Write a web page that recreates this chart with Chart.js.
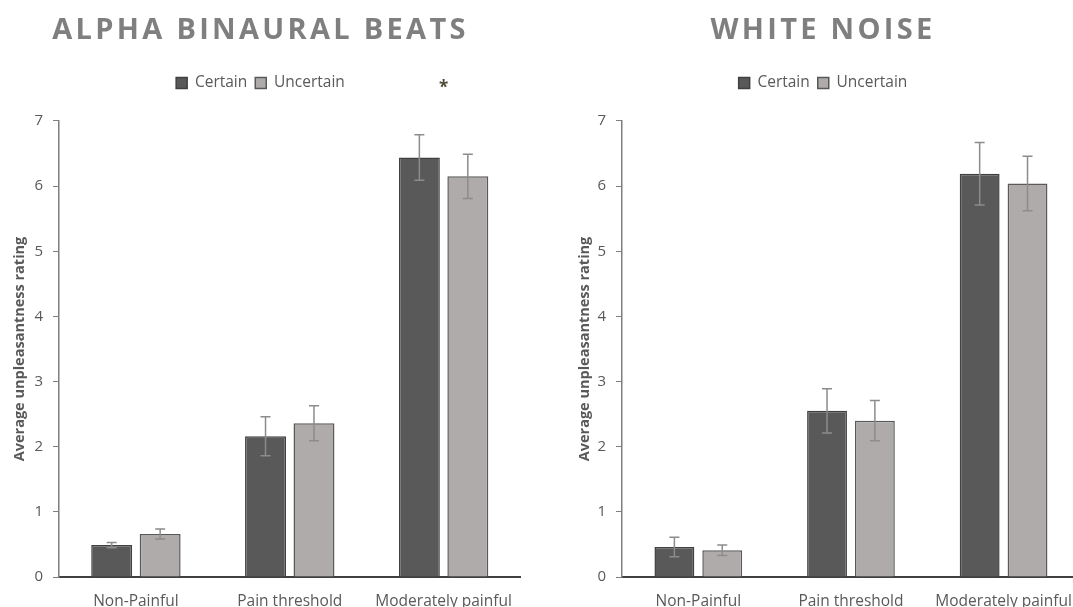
<!DOCTYPE html>
<html>
<head>
<meta charset="utf-8">
<script src="https://cdn.jsdelivr.net/npm/chart.js@4/dist/chart.umd.min.js"></script>
<style>
  html, body { margin: 0; padding: 0; background: #ffffff; overflow: hidden; width: 1073px; height: 607px; }
  .panel { position: absolute; top: 0; }
  #leftWrap { left: 0; }
  #rightWrap { left: 565px; }
</style>
</head>
<body>
<div id="leftWrap" class="panel"><canvas id="leftChart" width="528" height="617"></canvas></div>
<div id="rightWrap" class="panel"><canvas id="rightChart" width="523" height="617"></canvas></div>
<script>
// ---- Data ----
const categories = ["Non-Painful", "Pain threshold", "Moderately painful"];
const seriesNames = ["Certain", "Uncertain"];
const yTicks = [0, 1, 2, 3, 4, 5, 6, 7];
const yAxisTitle = "Average unpleasantness rating";

const alphaTitle = "ALPHA BINAURAL BEATS";
const alphaCertain = [0.49, 2.16, 6.44];
const alphaUncertain = [0.66, 2.36, 6.15];
const alphaCertainErr = [0.04, 0.30, 0.35];
const alphaUncertainErr = [0.077, 0.27, 0.34];
const alphaMarks = ["", "", "*"];

const noiseTitle = "WHITE NOISE";
const noiseCertain = [0.46, 2.55, 6.19];
const noiseUncertain = [0.41, 2.40, 6.04];
const noiseCertainErr = [0.15, 0.34, 0.48];
const noiseUncertainErr = [0.08, 0.31, 0.42];
const noiseMarks = ["", "", ""];

// ---- Styles ----
const FONT = "'Open Sans', 'Liberation Sans', sans-serif";
const certainFill = "#595959", certainBorder = "#404040";
const uncertainFill = "#afabab", uncertainBorder = "#595959";
const errColor = "#8c8c8c";
const textGray = "#595959";

const errorBarPlugin = {
  id: "errorBars",
  afterDatasetsDraw(chart) {
    const ctx = chart.ctx;
    const y = chart.scales.y;
    ctx.save();
    ctx.strokeStyle = errColor;
    ctx.lineWidth = 1.5;
    chart.data.datasets.forEach((ds, di) => {
      const meta = chart.getDatasetMeta(di);
      meta.data.forEach((bar, i) => {
        const v = ds.data[i], e = ds.errors[i];
        const yTop = y.getPixelForValue(v + e);
        const yBot = y.getPixelForValue(v - e);
        const x = bar.x, cap = 5;
        ctx.beginPath();
        ctx.moveTo(x, yTop); ctx.lineTo(x, yBot);
        ctx.moveTo(x - cap, yTop); ctx.lineTo(x + cap, yTop);
        ctx.moveTo(x - cap, yBot); ctx.lineTo(x + cap, yBot);
        ctx.stroke();
      });
    });
    ctx.restore();
  }
};

const markPlugin = {
  id: "sigMarks",
  afterDraw(chart, args, opts) {
    const marks = opts.marks || [];
    const ctx = chart.ctx;
    const xs = chart.scales.x;
    ctx.save();
    ctx.fillStyle = "#4d4a36";
    ctx.font = "bold 17px " + FONT;
    ctx.textAlign = "center";
    ctx.textBaseline = "middle";
    marks.forEach((m, i) => {
      if (m) ctx.fillText(m, xs.getPixelForValue(i), 88);
    });
    ctx.restore();
  }
};

// adds letter spacing to the chart title only
const titleSpacingPlugin = {
  id: "titleSpacing",
  beforeDraw(chart, args, opts) {
    const tb = chart.titleBlock;
    if (tb && !tb._spaced) {
      const orig = tb.draw.bind(tb);
      tb.draw = function () {
        const c = chart.ctx;
        const prev = c.letterSpacing;
        c.letterSpacing = opts.spacing || "0px";
        orig();
        c.letterSpacing = prev || "0px";
      };
      tb._spaced = true;
    }
  }
};

function makeChart(id, title, certain, uncertain, cErr, uErr, marks, yWidth, catPct, barPct) {
  return new Chart(document.getElementById(id), {
    type: "bar",
    data: {
      labels: categories,
      datasets: [
        { label: seriesNames[0], data: certain, errors: cErr,
          backgroundColor: certainFill, borderColor: certainBorder, borderWidth: 1.5,
          categoryPercentage: catPct, barPercentage: barPct },
        { label: seriesNames[1], data: uncertain, errors: uErr,
          backgroundColor: uncertainFill, borderColor: uncertainBorder, borderWidth: 1.5,
          categoryPercentage: catPct, barPercentage: barPct }
      ]
    },
    options: {
      responsive: false,
      animation: false,
      devicePixelRatio: 1,
      layout: { padding: { left: 0, right: 7, top: 0, bottom: 0 } },
      plugins: {
        title: {
          display: true, text: title, color: "#7f7f7f",
          font: { family: FONT, size: 29, weight: "bold", lineHeight: 1.2 },
          padding: { top: 13, bottom: 19.5 }
        },
        titleSpacing: { spacing: "3.3px" },
        subtitle: {
          display: true, text: "", weight: 500,
          font: { size: 10, lineHeight: 1 },
          padding: { top: 0, bottom: 10.15 }
        },
        legend: {
          display: true, position: "top",
          labels: {
            color: textGray, boxWidth: 11, boxHeight: 11, padding: 8,
            font: { family: FONT, size: 15.5 }
          }
        },
        tooltip: { enabled: false },
        sigMarks: { marks: marks }
      },
      scales: {
        x: {
          grid: { display: false, drawTicks: false },
          border: { display: true, color: "#404040", width: 2 },
          ticks: { color: textGray, padding: 15, font: { family: FONT, size: 15.5 }, maxRotation: 0 },
          afterFit(scale) { scale.height = 40; }
        },
        y: {
          min: 0, max: 7,
          afterBuildTicks(scale) { scale.ticks = yTicks.map(v => ({ value: v })); },
          grid: { drawOnChartArea: false, drawTicks: true, tickLength: 6, color: "#7f7f7f", lineWidth: 1 },
          border: { display: true, color: "#7f7f7f", width: 1.5 },
          ticks: { color: textGray, padding: 10, font: { family: FONT, size: 15 } },
          title: {
            display: true, text: yAxisTitle, color: textGray,
            font: { family: FONT, size: 14.5, weight: "bold" },
            padding: { top: 11, bottom: 0 }
          },
          afterFit(scale) { scale.width = yWidth; }
        }
      }
    },
    plugins: [errorBarPlugin, markPlugin, titleSpacingPlugin]
  });
}

makeChart("leftChart", alphaTitle, alphaCertain, alphaUncertain, alphaCertainErr, alphaUncertainErr, alphaMarks, 59, 0.63, 0.845);
makeChart("rightChart", noiseTitle, noiseCertain, noiseUncertain, noiseCertainErr, noiseUncertainErr, noiseMarks, 57, 0.627, 0.833);
</script>
</body>
</html>
